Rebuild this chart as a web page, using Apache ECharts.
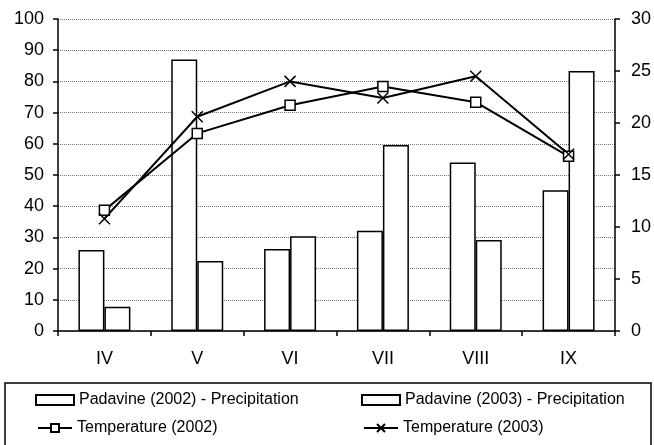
<!DOCTYPE html>
<html>
<head>
<meta charset="utf-8">
<script src="https://cdn.jsdelivr.net/npm/echarts@6/dist/echarts.min.js"></script>
<style>
  html, body { margin: 0; padding: 0; background: #fff; }
  #chart { width: 654px; height: 445px; }
</style>
</head>
<body>
<div id="chart"></div>
<script>
// 월별 카테고리
const months = ['IV', 'V', 'VI', 'VII', 'VIII', 'IX'];

// 강수량 (mm) - 왼쪽 축
const precip2002 = [26, 87, 26.3, 32.1, 54, 45.1];
const precip2003 = [7.8, 22.4, 30.4, 59.6, 29.2, 83.3];

// 기온 (°C) - 오른쪽 축
const temp2002 = [11.6, 19.0, 21.7, 23.5, 22.0, 16.8];
const temp2003 = [10.8, 20.6, 24.0, 22.4, 24.5, 17.0];

const font = 'Liberation Sans, Arial, sans-serif';
const crossPath = 'path://M0,0L10,10M10,0L0,10';

const chart = echarts.init(document.getElementById('chart'));

const barStyle = {
  color: '#fff',
  borderColor: '#000',
  borderWidth: 1.5
};

const legendText = { fontFamily: font, fontSize: 16, color: '#000' };

// 범례 한 칸씩 따로 배치 (열 맞춤)
const legendAt = (left, top, name, icon) => ({
  left, top, padding: 0,
  itemWidth: icon ? 38 : 34,
  itemHeight: 10,
  itemGap: 0,
  icon,
  textStyle: legendText,
  data: [name]
});

chart.setOption({
  animation: false,
  backgroundColor: '#fff',
  grid: { left: 58, right: 39, top: 19, bottom: 114 },
  xAxis: {
    type: 'category',
    data: months,
    axisLine: { lineStyle: { color: '#000', width: 1.5 } },
    axisTick: { show: true, length: 5, lineStyle: { color: '#000', width: 1.5 } },
    axisLabel: { color: '#000', fontFamily: font, fontSize: 18, margin: 19 }
  },
  yAxis: [
    {
      type: 'value',
      min: 0,
      max: 100,
      interval: 10,
      axisLine: { show: true, lineStyle: { color: '#000', width: 1.5 } },
      axisTick: { show: true, length: 5, lineStyle: { color: '#000', width: 1.5 } },
      axisLabel: { color: '#000', fontFamily: font, fontSize: 18, margin: 14 },
      splitLine: { show: true, lineStyle: { color: '#777', type: 'dotted', width: 1 } }
    },
    {
      type: 'value',
      min: 0,
      max: 30,
      interval: 5,
      position: 'right',
      axisLine: { show: true, lineStyle: { color: '#000', width: 1.5 } },
      axisTick: { show: true, length: 5, lineStyle: { color: '#000', width: 1.5 } },
      axisLabel: { color: '#000', fontFamily: font, fontSize: 18, margin: 16 },
      splitLine: { show: false }
    }
  ],
  legend: [
    legendAt(35, 392, 'Padavine (2002) - Precipitation', 'rect'),
    legendAt(361, 392, 'Padavine (2003) - Precipitation', 'rect'),
    legendAt(37, 420, 'Temperature (2002)'),
    legendAt(363, 420, 'Temperature (2003)')
  ],
  // 범례 테두리 박스
  graphic: [
    {
      type: 'rect',
      shape: { x: 5, y: 383, width: 646, height: 80 },
      style: { fill: 'none', stroke: '#000', lineWidth: 1.5 },
      silent: true
    }
  ],
  series: [
    {
      name: 'Padavine (2002) - Precipitation',
      type: 'bar',
      data: precip2002,
      barGap: '0%',
      barCategoryGap: '44%',
      itemStyle: barStyle
    },
    {
      name: 'Padavine (2003) - Precipitation',
      type: 'bar',
      data: precip2003,
      barGap: '0%',
      barCategoryGap: '44%',
      itemStyle: barStyle
    },
    {
      name: 'Temperature (2002)',
      type: 'line',
      yAxisIndex: 1,
      data: temp2002,
      symbol: 'rect',
      symbolSize: 10,
      lineStyle: { color: '#000', width: 2 },
      itemStyle: { color: '#fff', borderColor: '#000', borderWidth: 1.5 },
      z: 5
    },
    {
      name: 'Temperature (2003)',
      type: 'line',
      yAxisIndex: 1,
      data: temp2003,
      symbol: crossPath,
      symbolSize: 11,
      lineStyle: { color: '#000', width: 2 },
      itemStyle: { color: '#000', borderColor: '#000', borderWidth: 1.5 },
      z: 5
    }
  ]
});
</script>
</body>
</html>
